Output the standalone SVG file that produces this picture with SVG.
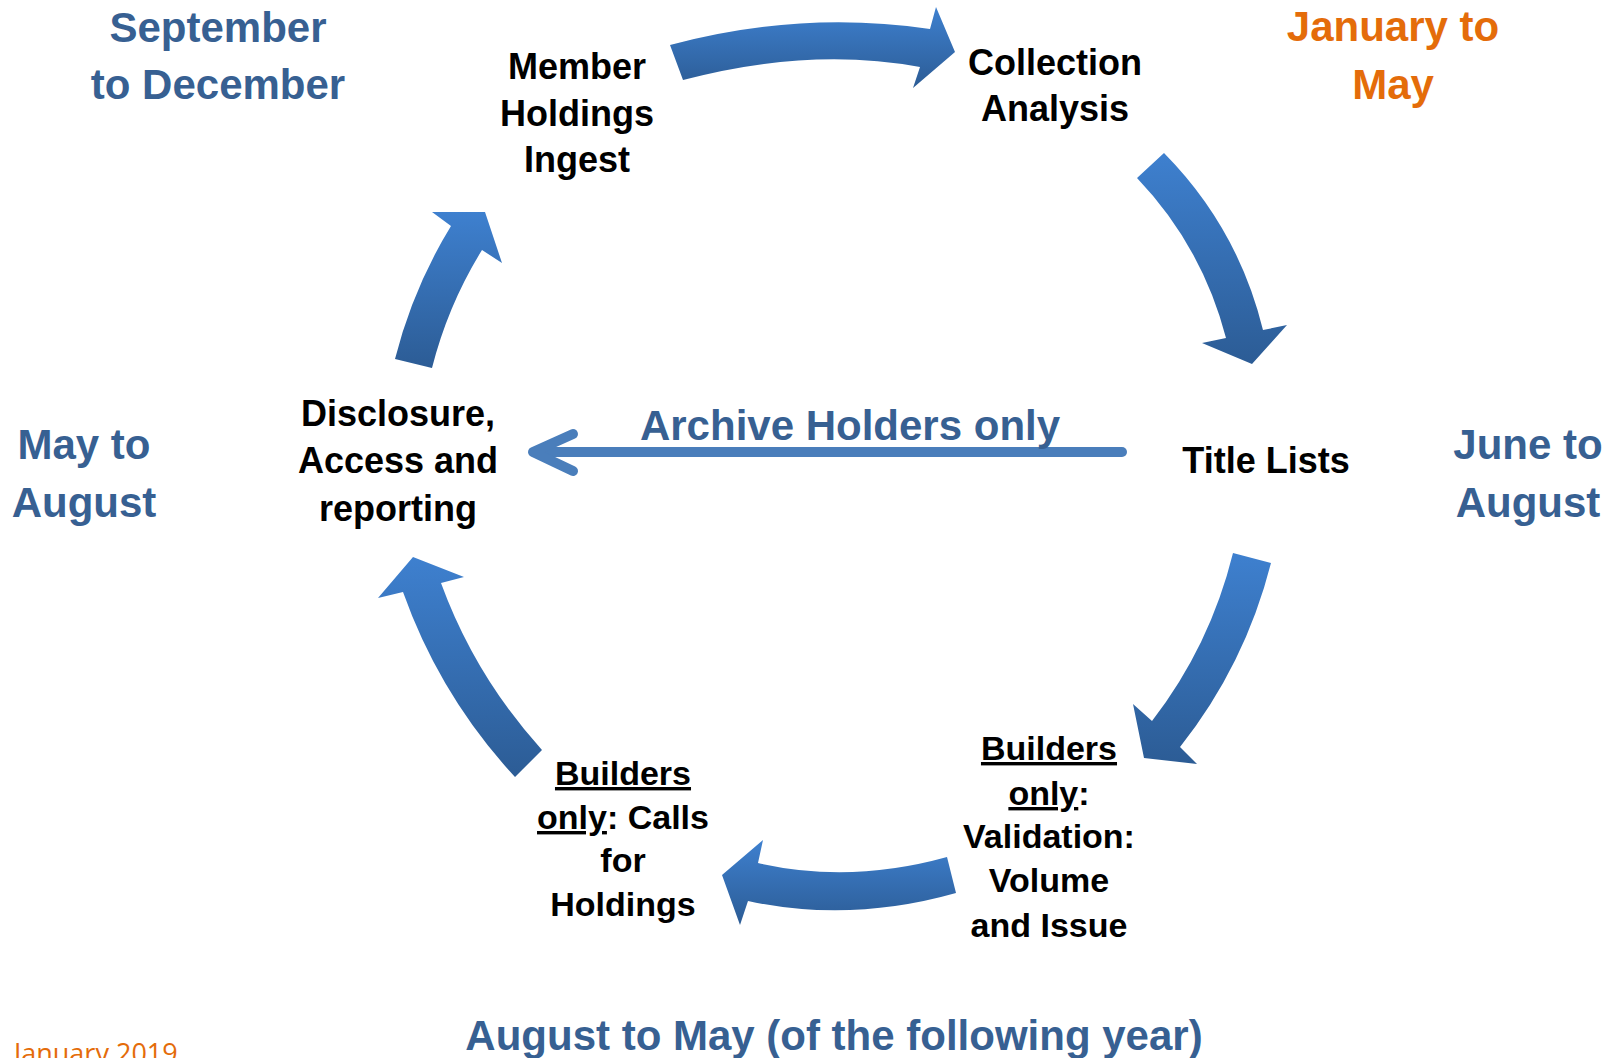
<svg xmlns="http://www.w3.org/2000/svg" width="1614" height="1058" viewBox="0 0 1614 1058">
<defs>
<linearGradient id="g" x1="0" y1="0" x2="0" y2="1">
<stop offset="0" stop-color="#3e80cf"/>
<stop offset="1" stop-color="#2c5c95"/>
</linearGradient>
<style>
.node{font-family:"Liberation Sans",Arial,sans-serif;font-weight:bold;font-size:36px;fill:#000;text-anchor:middle}
.small{font-size:34px}
.per{font-family:"Liberation Sans",Arial,sans-serif;font-weight:bold;font-size:42px;fill:#376092;text-anchor:middle}
.or{fill:#e46c0a}
.u{text-decoration:underline}
.arr{fill:url(#g)}
.line{stroke:#4a7ebb;stroke-width:10;fill:none;stroke-linecap:round;stroke-linejoin:round}
</style>
</defs>
<rect width="1614" height="1058" fill="#fff"/>

<g id="connectors">
<path class="arr" d="M670,45 Q800,10 930,29 L936,7 L955,52 L913,88 L920,67 Q810,46.5 683,80 Z"/>
<path class="arr" d="M1164,153 Q1238,228 1263,330 L1287,325 L1252,364 L1202,343 L1226,338 Q1202,246 1137,178 Z"/>
<path class="arr" d="M1271,563 Q1245,665 1180,747 L1197,764 L1144,758 L1133,704 L1152,721 Q1210,646 1233,553 Z"/>
<path class="arr" d="M947,857 Q850,884 758,863 L763,840 L722,875 L740,925 L748,901 Q850,923 956,893 Z"/>
<path class="arr" d="M542,750 Q475,676 441,583 L464,577 L413,557 L378,598 L403,592 Q440,696 515,777 Z"/>
<path class="arr" d="M395,359 Q413,288 451,226 L432,212 L485,212 L502,263 L482,250 Q448,305 432,368 Z"/>
<g id="archive-arrow">
<line class="line" x1="1122" y1="452" x2="536" y2="452"/>
<polyline class="line" points="573,434 533,452 573,471"/>
</g>
</g>

<g id="node-member-holdings-ingest">
<text class="node" x="577" y="79" font-size="37">Member</text>
<text class="node" x="577" y="126">Holdings</text>
<text class="node" x="577" y="172">Ingest</text>
</g>
<g id="node-collection-analysis">
<text class="node" x="1055" y="75">Collection</text>
<text class="node" x="1055" y="121">Analysis</text>
</g>
<g id="node-title-lists">
<text class="node" x="1266" y="473">Title Lists</text>
</g>
<g id="node-validation">
<text class="node small" x="1049" y="760"><tspan class="u">Builders</tspan></text>
<text class="node small" x="1049" y="805"><tspan class="u">only</tspan>:</text>
<text class="node small" x="1049" y="848">Validation:</text>
<text class="node small" x="1049" y="892">Volume</text>
<text class="node small" x="1049" y="937">and Issue</text>
</g>
<g id="node-calls-for-holdings">
<text class="node small" x="623" y="785"><tspan class="u">Builders</tspan></text>
<text class="node small" x="623" y="829"><tspan class="u">only</tspan>: Calls</text>
<text class="node small" x="623" y="872">for</text>
<text class="node small" x="623" y="916">Holdings</text>
</g>
<g id="node-disclosure">
<text class="node" x="398" y="426">Disclosure,</text>
<text class="node" x="398" y="473">Access and</text>
<text class="node" x="398" y="521">reporting</text>
</g>

<g id="label-archive">
<text class="per" x="850" y="440">Archive Holders only</text>
</g>
<g id="label-sep-dec">
<text class="per" x="218" y="42">September</text>
<text class="per" x="218" y="99">to December</text>
</g>
<g id="label-jan-may">
<text class="per or" x="1393" y="41">January to</text>
<text class="per or" x="1393" y="99">May</text>
</g>
<g id="label-may-aug">
<text class="per" x="84" y="459">May to</text>
<text class="per" x="84" y="517">August</text>
</g>
<g id="label-jun-aug">
<text class="per" x="1528" y="459">June to</text>
<text class="per" x="1528" y="517">August</text>
</g>
<g id="label-aug-may">
<text class="per" x="834" y="1050">August to May (of the following year)</text>
</g>
<g id="label-date">
<text x="14" y="1063" font-family="'Open Sans','Liberation Sans',sans-serif" font-size="27" fill="#e46c0a">January 2019</text>
</g>
</svg>
